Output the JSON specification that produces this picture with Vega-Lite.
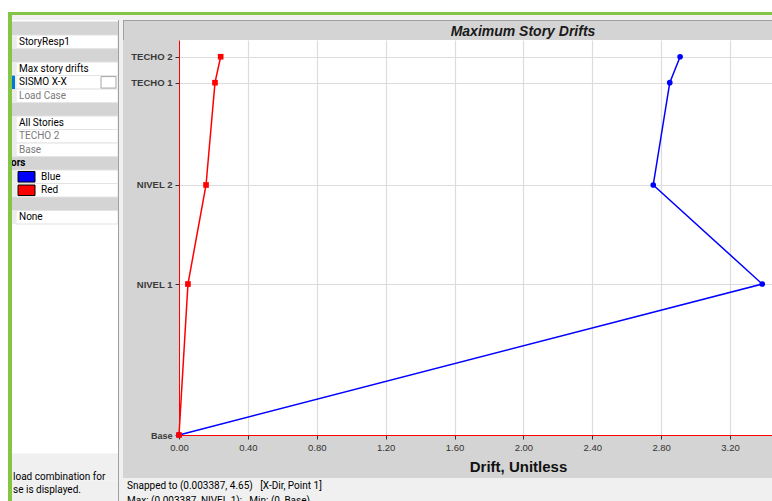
{
  "$schema": "https://vega.github.io/schema/vega-lite/v6.json",
  "background": "#d4d4d4",
  "padding": 0,
  "spacing": 0,
  "config": {"view": {"stroke": null}, "font": "Liberation Sans"},
  "datasets": {
    "drifts": [
      {"story": "Base", "elev": 0, "dir": "X-Dir", "drift": 0},
      {"story": "NIVEL 1", "elev": 4.65, "dir": "X-Dir", "drift": 0.003387},
      {"story": "NIVEL 2", "elev": 7.7, "dir": "X-Dir", "drift": 0.002754},
      {"story": "TECHO 1", "elev": 10.85, "dir": "X-Dir", "drift": 0.00285},
      {"story": "TECHO 2", "elev": 11.65, "dir": "X-Dir", "drift": 0.00291},
      {"story": "Base", "elev": 0, "dir": "Y-Dir", "drift": 0},
      {"story": "NIVEL 1", "elev": 4.65, "dir": "Y-Dir", "drift": 0.000052},
      {"story": "NIVEL 2", "elev": 7.7, "dir": "Y-Dir", "drift": 0.000157},
      {"story": "TECHO 1", "elev": 10.85, "dir": "Y-Dir", "drift": 0.000209},
      {"story": "TECHO 2", "elev": 11.65, "dir": "Y-Dir", "drift": 0.000242}
    ],
    "panel": [
      {"row": 0, "kind": "header", "label": ""},
      {"row": 1, "kind": "item", "label": "StoryResp1"},
      {"row": 2, "kind": "header", "label": ""},
      {"row": 3, "kind": "item", "label": "Max story drifts"},
      {"row": 4, "kind": "item", "label": "SISMO X-X"},
      {"row": 5, "kind": "muted", "label": "Load Case"},
      {"row": 6, "kind": "header", "label": ""},
      {"row": 7, "kind": "item", "label": "All Stories"},
      {"row": 8, "kind": "muted", "label": "TECHO 2"},
      {"row": 9, "kind": "muted", "label": "Base"},
      {"row": 10, "kind": "header", "label": "ors"},
      {"row": 11, "kind": "swatch", "label": "Blue"},
      {"row": 12, "kind": "swatch", "label": "Red"},
      {"row": 13, "kind": "header", "label": ""},
      {"row": 14, "kind": "item", "label": "None"},
      {"row": 32, "kind": "note", "label": ""},
      {"row": 33, "kind": "note", "label": "load combination for"},
      {"row": 34, "kind": "note", "label": "se is displayed."},
      {"row": 35, "kind": "note", "label": ""}
    ],
    "status": [
      {"line": 0, "text": "Snapped to (0.003387, 4.65)\u00a0\u00a0 [X-Dir, Point 1]"},
      {"line": 1, "text": "Max: (0.003387, NIVEL 1);\u00a0\u00a0 Min: (0, Base)"}
    ]
  },
  "vconcat": [
    {
      "width": 772,
      "height": 20,
      "view": {"fill": "white", "stroke": null},
      "data": {"values": [{}]},
      "layer": [
        {"mark": {"type": "rect", "fill": "#f0f0f0"}, "encoding": {"x": {"value": 12}, "x2": {"value": 772}, "y": {"value": 15}, "y2": {"value": 20}}},
        {"mark": {"type": "rect", "fill": "#84c545"}, "encoding": {"x": {"value": 8}, "x2": {"value": 772}, "y": {"value": 12}, "y2": {"value": 15}}},
        {"mark": {"type": "rect", "fill": "#84c545"}, "encoding": {"x": {"value": 8}, "x2": {"value": 12}, "y": {"value": 15}, "y2": {"value": 20}}}
      ]
    },
    {
      "spacing": 0,
      "hconcat": [
        {
          "width": 123,
          "height": 489,
          "view": {"fill": "white", "stroke": null},
          "data": {"name": "panel"},
          "encoding": {
            "y": {
              "field": "row",
              "type": "ordinal",
              "axis": null,
              "scale": {"domain": [0,1,2,3,4,5,6,7,8,9,10,11,12,13,14,15,16,17,18,19,20,21,22,23,24,25,26,27,28,29,30,31,32,33,34,35], "paddingInner": 0, "paddingOuter": 0.12}
            }
          },
          "layer": [
            {"transform": [{"filter": "datum.kind == 'header'"}], "mark": {"type": "rect", "fill": "#d4d4d4"}, "encoding": {"x": {"value": 12}, "x2": {"value": 118}}},
            {"transform": [{"filter": "datum.kind == 'item' || datum.kind == 'muted' || datum.kind == 'swatch'"}], "mark": {"type": "rect", "fill": "white", "stroke": "#e3e3e3", "strokeWidth": 1}, "encoding": {"x": {"value": 16}, "x2": {"value": 118}}},
            {"transform": [{"filter": "datum.kind == 'item' || datum.kind == 'muted' || datum.kind == 'swatch'"}], "mark": {"type": "rect", "fill": "#ececec"}, "encoding": {"x": {"value": 12}, "x2": {"value": 16}}},
            {"transform": [{"filter": "datum.kind == 'note'"}], "mark": {"type": "rect", "fill": "#f0f0f0"}, "encoding": {"x": {"value": 12}, "x2": {"value": 118}}},
            {"transform": [{"filter": "datum.label == 'SISMO X-X'"}], "mark": {"type": "rect", "fill": "#0078d7"}, "encoding": {"x": {"value": 12}, "x2": {"value": 15}}},
            {"transform": [{"filter": "datum.label == 'SISMO X-X'"}], "mark": {"type": "rect", "fill": "white", "stroke": "#a6a6a6", "height": {"band": 0.85}}, "encoding": {"x": {"value": 101}, "x2": {"value": 116}}},
            {"transform": [{"filter": "datum.kind == 'swatch'"}], "mark": {"type": "rect", "stroke": "#000000", "strokeWidth": 1, "height": {"band": 0.78}}, "encoding": {"x": {"value": 18}, "x2": {"value": 35}, "fill": {"field": "label", "type": "nominal", "scale": {"domain": ["Blue", "Red"], "range": ["#0000ff", "#ff0000"]}, "legend": null}}},
            {"transform": [{"filter": "datum.kind == 'item'"}], "mark": {"type": "text", "align": "left", "baseline": "middle", "font": "Roboto", "fontSize": 10, "color": "#000000"}, "encoding": {"x": {"value": 19}, "text": {"field": "label"}}},
            {"transform": [{"filter": "datum.kind == 'muted'"}], "mark": {"type": "text", "align": "left", "baseline": "middle", "font": "Roboto", "fontSize": 10, "color": "#7a7a7a"}, "encoding": {"x": {"value": 19}, "text": {"field": "label"}}},
            {"transform": [{"filter": "datum.kind == 'swatch'"}], "mark": {"type": "text", "align": "left", "baseline": "middle", "font": "Roboto", "fontSize": 10, "color": "#000000"}, "encoding": {"x": {"value": 41}, "text": {"field": "label"}}},
            {"transform": [{"filter": "datum.kind == 'header'"}], "mark": {"type": "text", "align": "left", "baseline": "middle", "font": "Roboto", "fontSize": 10, "fontWeight": "bold", "color": "#000000"}, "encoding": {"x": {"value": 11}, "text": {"field": "label"}}},
            {"transform": [{"filter": "datum.kind == 'note'"}], "mark": {"type": "text", "align": "left", "baseline": "middle", "font": "Roboto", "fontSize": 10, "color": "#000000", "dy": 3}, "encoding": {"x": {"value": 13}, "text": {"field": "label"}}},
            {"data": {"values": [{}]}, "mark": {"type": "rect", "fill": "#84c545"}, "encoding": {"x": {"value": 8}, "x2": {"value": 12}, "y": {"value": 0}, "y2": {"value": 489}}},
            {"data": {"values": [{}]}, "mark": {"type": "rect", "fill": "#a0a0a0"}, "encoding": {"x": {"value": 118}, "x2": {"value": 119}, "y": {"value": 0}, "y2": {"value": 489}}},
            {"data": {"values": [{}]}, "mark": {"type": "rect", "fill": "#f0f0f0"}, "encoding": {"x": {"value": 119}, "x2": {"value": 123}, "y": {"value": 0}, "y2": {"value": 489}}}
          ]
        },
        {
          "spacing": 0,
          "vconcat": [
            {
              "width": 593,
              "height": 20,
              "view": {"stroke": null},
              "data": {"values": [{"title": "Maximum Story Drifts"}]},
              "layer": [
                {"mark": {"type": "rect", "fill": "#a0a0a0"}, "encoding": {"x": {"value": -56}, "x2": {"value": 593}, "y": {"value": 0}, "y2": {"value": 1}}},
                {"mark": {"type": "rect", "fill": "#a0a0a0"}, "encoding": {"x": {"value": -56}, "x2": {"value": -55}, "y": {"value": 0}, "y2": {"value": 20}}},
                {
                  "mark": {"type": "text", "align": "center", "baseline": "middle", "font": "Liberation Sans", "fontSize": 14, "fontWeight": "bold", "fontStyle": "italic", "color": "#1a1a1a"},
                  "encoding": {"x": {"value": 344}, "y": {"value": 12}, "text": {"field": "title"}}
                }
              ]
            },
            {
              "width": 593,
              "height": 395,
              "view": {"fill": "white", "stroke": null},
              "data": {"name": "drifts"},
              "encoding": {
                "x": {
                  "field": "drift",
                  "type": "quantitative",
                  "scale": {"domain": [0, 0.0034437], "nice": false, "zero": false},
                  "axis": {
                    "values": [0, 0.0004, 0.0008, 0.0012, 0.0016, 0.002, 0.0024, 0.0028, 0.0032],
                    "labelExpr": "format(datum.value * 1000, '.2f')",
                    "labelFlush": false,
                    "title": "Drift, Unitless",
                    "titleFont": "Liberation Sans",
                    "titleFontSize": 15,
                    "titleFontWeight": "bold",
                    "titleColor": "#111111",
                    "titleX": 339,
                    "titleY": 36,
                    "titleBaseline": "alphabetic",
                    "labelFont": "Liberation Sans",
                    "labelFontSize": 9.5,
                    "labelColor": "#333333",
                    "labelPadding": 3,
                    "domainColor": "#ff0000",
                    "domainWidth": 1,
                    "tickColor": "#333333",
                    "tickSize": 4,
                    "gridColor": "#dcdcdc",
                    "gridWidth": 1.2,
                    "minExtent": 43,
                    "maxExtent": 43
                  }
                },
                "y": {
                  "field": "elev",
                  "type": "quantitative",
                  "scale": {"domain": [0, 12.165], "nice": false, "zero": false},
                  "axis": {
                    "values": [0, 4.65, 7.7, 10.85, 11.65],
                    "labelExpr": "datum.value == 0 ? 'Base' : datum.value == 4.65 ? 'NIVEL 1' : datum.value == 7.7 ? 'NIVEL 2' : datum.value == 10.85 ? 'TECHO 1' : 'TECHO 2'",
                    "labelFlush": false,
                    "title": null,
                    "labelFont": "Liberation Sans",
                    "labelFontSize": {"condition": {"test": "datum.value == 0", "value": 9}, "value": 9.5},
                    "labelFontWeight": "bold",
                    "labelColor": "#3a3a3a",
                    "labelPadding": 3,
                    "domainColor": "#ff0000",
                    "domainWidth": 1,
                    "tickColor": "#333333",
                    "tickSize": 4,
                    "gridColor": "#dcdcdc",
                    "gridWidth": 1.2,
                    "minExtent": 56,
                    "maxExtent": 56
                  }
                },
                "color": {"field": "dir", "type": "nominal", "scale": {"domain": ["X-Dir", "Y-Dir"], "range": ["#0000ff", "#ff0000"]}, "legend": null}
              },
              "layer": [
                {"mark": {"type": "line", "strokeWidth": 1.5}, "encoding": {"order": {"field": "elev", "type": "quantitative"}}},
                {"mark": {"type": "point", "filled": true, "opacity": 1, "size": 32}, "encoding": {"shape": {"field": "dir", "type": "nominal", "scale": {"domain": ["X-Dir", "Y-Dir"], "range": ["circle", "square"]}, "legend": null}}}
              ]
            },
            {
              "width": 593,
              "height": 30,
              "view": {"stroke": null},
              "data": {"name": "status"},
              "encoding": {
                "y": {"field": "line", "type": "ordinal", "axis": null, "scale": {"paddingInner": 0, "paddingOuter": 0.07}}
              },
              "layer": [
                {"data": {"values": [{}]}, "mark": {"type": "rect", "fill": "#f0f0f0"}, "encoding": {"x": {"value": -56}, "x2": {"value": 593}, "y": {"value": 0}, "y2": {"value": 30}}},
                {
                  "mark": {"type": "text", "align": "left", "baseline": "middle", "font": "Roboto", "fontSize": 10, "color": "#000000"},
                  "encoding": {"x": {"value": -52}, "text": {"field": "text"}}
                }
              ]
            }
          ]
        }
      ]
    }
  ]
}
